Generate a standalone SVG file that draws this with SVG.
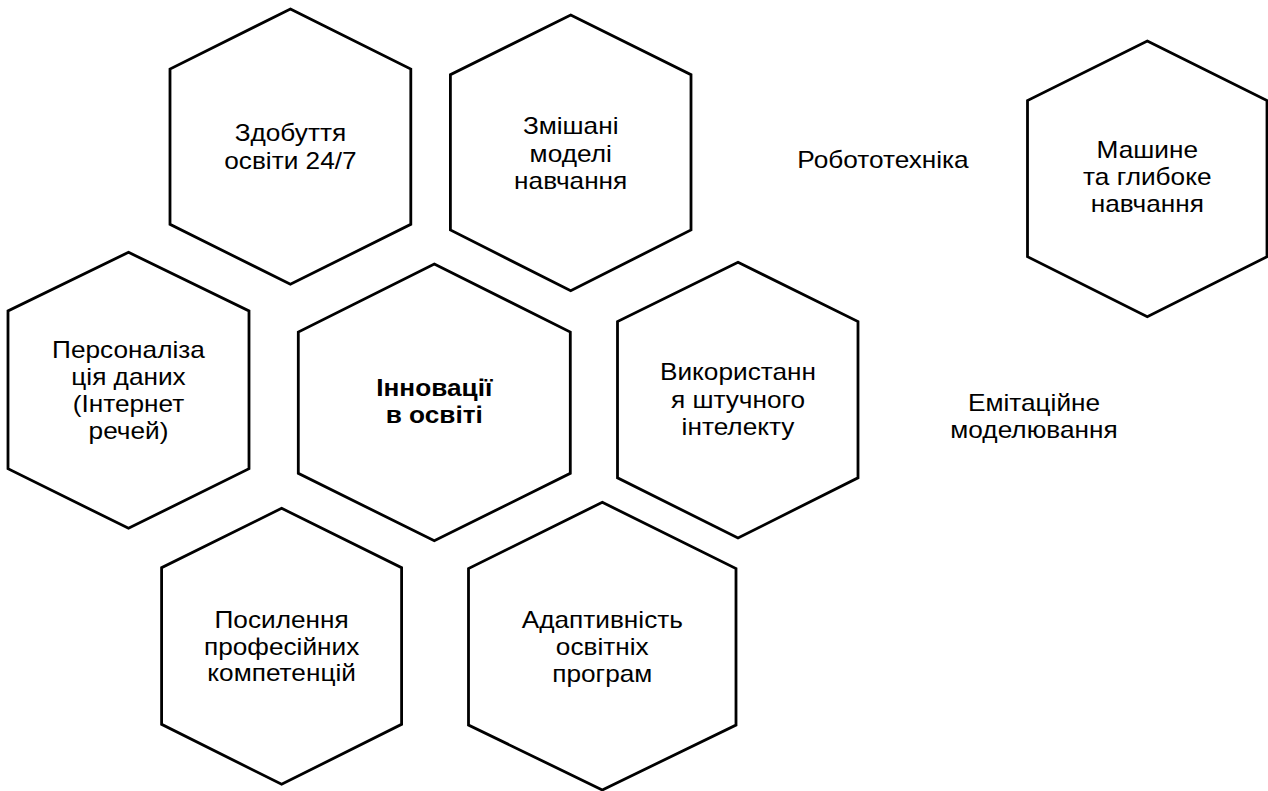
<svg xmlns="http://www.w3.org/2000/svg" width="1268" height="791" viewBox="0 0 1268 791">
<style>
.hex{fill:#ffffff;stroke:#000000;stroke-width:2.8;stroke-linejoin:miter}
.t{font-family:"Liberation Sans",Arial,sans-serif;font-size:23px;fill:#000000;text-anchor:middle}
.b{font-weight:bold}
</style>
<rect x="0" y="0" width="1268" height="791" fill="#ffffff"/>
<g id="connectors"></g>
<g id="node-zdobuttia">
<polygon class="hex" points="290.4,9 410.8,69 410.8,224.3 290.4,284.3 170,224.3 170,69"/>
<g transform="translate(290.4 0) scale(1.14 1)">
<text class="t" x="0" y="141">Здобуття</text>
<text class="t" x="0" y="169">освіти 24/7</text>
</g>
</g>
<g id="node-zmishani">
<polygon class="hex" points="570.7,15 691,74.7 691,230 570.7,290.7 450.4,230 450.4,74.7"/>
<g transform="translate(570.7 0) scale(1.14 1)">
<text class="t" x="0" y="134.5">Змішані</text>
<text class="t" x="0" y="162">моделі</text>
<text class="t" x="0" y="189.5">навчання</text>
</g>
</g>
<g id="node-robototekhnika">
<g transform="translate(883 0) scale(1.14 1)">
<text class="t" x="0" y="168">Робототехніка</text>
</g>
</g>
<g id="node-mashyne">
<polygon class="hex" points="1147.3,41 1267,100.5 1267,256.7 1147.3,316.7 1027.5,256.7 1027.5,100.5"/>
<g transform="translate(1147.3 0) scale(1.14 1)">
<text class="t" x="0" y="158">Машине</text>
<text class="t" x="0" y="185">та глибоке</text>
<text class="t" x="0" y="212">навчання</text>
</g>
</g>
<g id="node-personalizatsiia">
<polygon class="hex" points="128.5,252.3 249,311 249,468.7 128.5,528.3 8,468.7 8,311"/>
<g transform="translate(128.5 0) scale(1.14 1)">
<text class="t" x="0" y="358">Персоналіза</text>
<text class="t" x="0" y="385">ція даних</text>
<text class="t" x="0" y="412">(Інтернет</text>
<text class="t" x="0" y="439">речей)</text>
</g>
</g>
<g id="node-innovatsii">
<polygon class="hex" points="434.3,264 570.3,332 570.3,473.3 434.3,540.8 298.3,473.3 298.3,332"/>
<g transform="translate(434.3 0) scale(1.14 1)">
<text class="t b" x="0" y="396">Інновації</text>
<text class="t b" x="0" y="423.5">в освіті</text>
</g>
</g>
<g id="node-vykorystannia">
<polygon class="hex" points="738,262.3 858,321.5 858,477.8 738,538 617.5,477.8 617.5,321.5"/>
<g transform="translate(738 0) scale(1.14 1)">
<text class="t" x="0" y="380">Використанн</text>
<text class="t" x="0" y="408">я штучного</text>
<text class="t" x="0" y="435">інтелекту</text>
</g>
</g>
<g id="node-emitatsiine">
<g transform="translate(1034 0) scale(1.14 1)">
<text class="t" x="0" y="411">Емітаційне</text>
<text class="t" x="0" y="438">моделювання</text>
</g>
</g>
<g id="node-posylennia">
<polygon class="hex" points="281.6,508.3 401.6,567.7 401.6,724.3 281.6,784.3 161.6,724.3 161.6,567.7"/>
<g transform="translate(281.6 0) scale(1.14 1)">
<text class="t" x="0" y="628">Посилення</text>
<text class="t" x="0" y="655">професійних</text>
<text class="t" x="0" y="681.5">компетенцій</text>
</g>
</g>
<g id="node-adaptyvnist">
<polygon class="hex" points="602.3,502.3 736,568.5 736,725 602.3,790 468.5,725 468.5,568.5"/>
<g transform="translate(602.3 0) scale(1.14 1)">
<text class="t" x="0" y="628">Адаптивність</text>
<text class="t" x="0" y="655">освітніх</text>
<text class="t" x="0" y="682">програм</text>
</g>
</g>
</svg>
